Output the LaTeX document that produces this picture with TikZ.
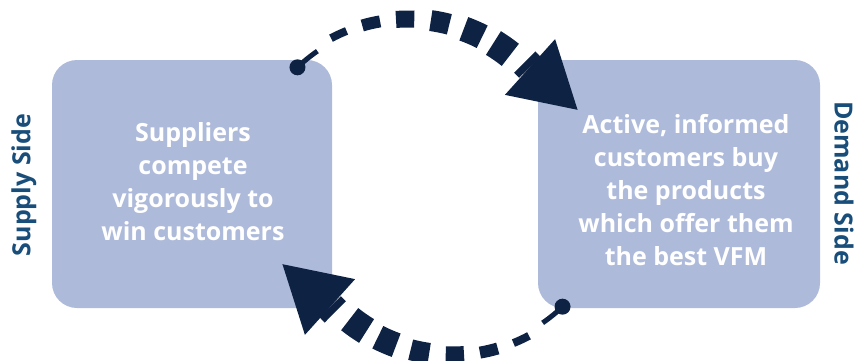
\documentclass[tikz,border=0pt]{standalone}
\usepackage{fontspec}
\setmainfont{Open Sans}
\definecolor{boxblue}{RGB}{174,186,218}
\definecolor{navy}{RGB}{14,34,68}
\definecolor{sideblue}{RGB}{26,78,122}

% one dashed arc with growing dashes, dot at the start, big head at the end
\newcommand{\cyclearc}{%
    \begin{scope}[shift={(408,177)}]
        \coordinate (start) at (133.7:160);
        \fill[navy] (start) circle (8);
        \draw[navy, line width=5pt] (start) arc[start angle=133.7, end angle=124.5, radius=160];
        \foreach \a/\w/\l in {115/8/3, 103/12/3.2, 91/17/3.2, 78.7/21/3.3, 66.6/25/3.5, 55/28/3.6}
            \draw[navy, line width=\w pt] (\a+\l:164) arc[start angle=\a+\l, end angle=\a-\l, radius=164];
        \draw[navy, line width=30pt] (46:168) arc[start angle=46, end angle=43.5, radius=168];
    \end{scope}
    \coordinate (head) at (530,293);
    \fill[navy] ([shift={(48:37.5)}]head) -- ([shift={(228:37.5)}]head) -- ([shift={(-42:64)}]head) -- cycle;
}

\begin{document}
\begin{tikzpicture}[x=1pt,y=1pt]
    \tikzset{sidebox/.style = {fill=boxblue, rounded corners=25pt, minimum height=248pt}}
    \tikzset{boxtext/.style = {text=white, align=center, font=\fontsize{25}{33}\selectfont\bfseries}}
    \tikzset{sidelabel/.style = {text=sideblue, font=\fontsize{25}{28}\selectfont\bfseries}}

    \useasboundingbox (0,0) rectangle (856,360);

    % boxes
    \node[sidebox, minimum width=280pt] (supply) at (192,176) {};
    \node[sidebox, minimum width=282pt] (demand) at (679,176) {};

    % texts
    \node[boxtext] (supplytext) at (193,178) {Suppliers\\compete\\vigorously to\\win customers};
    \node[boxtext] (demandtext) at (686,170) {Active, informed\\customers buy\\the products\\which offer them\\the best VFM};
    \node[sidelabel, rotate=90] (supplylabel) at (24,175) {Supply Side};
    \node[sidelabel, rotate=-90] (demandlabel) at (844,177) {Demand Side};

    % arrows
    \cyclearc
    \begin{scope}[rotate around={180:(430,173)}]
        \cyclearc
    \end{scope}
\end{tikzpicture}
\end{document}
